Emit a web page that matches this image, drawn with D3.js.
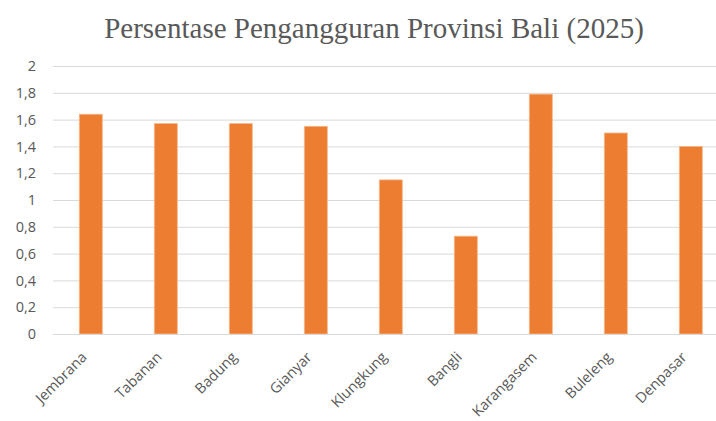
<!DOCTYPE html>
<html><head><meta charset="utf-8">
<script src="https://cdn.jsdelivr.net/npm/d3@7"></script>
<style>body{margin:0;background:#fff}svg{display:block}</style>
</head><body>
<svg id="c" width="716" height="421"></svg>
<script>
const categories = ["Jembrana","Tabanan","Badung","Gianyar","Klungkung","Bangli","Karangasem","Buleleng","Denpasar"];
const values = [1.64,1.57,1.57,1.55,1.15,0.73,1.79,1.50,1.40];
const yTicks = [0,0.2,0.4,0.6,0.8,1,1.2,1.4,1.6,1.8,2];
const title = "Persentase Pengangguran Provinsi Bali (2025)";

const svg = d3.select("#c");
const x = d3.scaleBand().domain(categories).range([53.3, 728.3]).paddingInner(0.693).paddingOuter(0.3465);
const y = d3.scaleLinear().domain([0,2]).range([334,66]);

svg.append("text").attr("x", 374).attr("y", 38).attr("text-anchor","middle")
  .attr("font-family","'Liberation Serif', serif").attr("font-size",29).attr("fill","#595959").text(title);

const fmt = v => String(+v.toFixed(1)).replace(".", ",");
const ya = svg.append("g").attr("transform","translate(53,0)")
  .call(d3.axisLeft(y).tickValues(yTicks).tickSize(-680).tickFormat(fmt).tickPadding(17));
ya.select(".domain").remove();
ya.selectAll(".tick line").attr("stroke","#d9d9d9").attr("stroke-width",1);
ya.selectAll(".tick text").attr("fill","#595959").attr("font-family","'Open Sans', sans-serif").attr("font-size",14.5);

svg.append("g").selectAll("rect").data(values).join("rect")
  .attr("x",(d,i)=>x(categories[i])).attr("width",x.bandwidth())
  .attr("y",d=>y(d)).attr("height",d=>y(0)-y(d))
  .attr("fill","#ed7d31").attr("stroke","#f5b88c").attr("stroke-width",0.8);

const xa = svg.append("g").attr("transform","translate(0,334)")
  .call(d3.axisBottom(x).tickSize(0).tickPadding(0));
xa.select(".domain").attr("stroke","#d9d9d9");
xa.selectAll(".tick text").attr("fill","#595959").attr("font-family","'Open Sans', sans-serif").attr("font-size",14.5)
  .attr("text-anchor","end").attr("dy",0).attr("transform","translate(-3,24) rotate(-45)");
</script>
</body></html>
